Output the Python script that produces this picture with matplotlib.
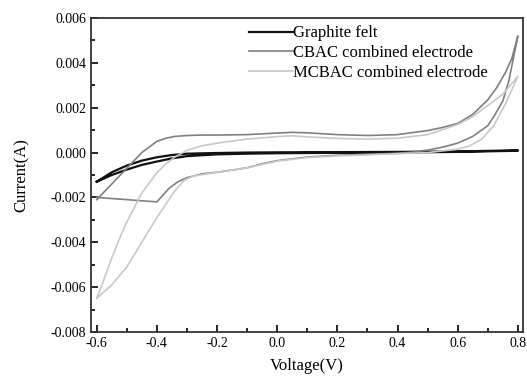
import matplotlib
matplotlib.use("Agg")
import matplotlib.pyplot as plt
from matplotlib.ticker import MultipleLocator

# Graphite felt (forward and return branches)
gf_v = [-0.6, -0.57, -0.55, -0.5, -0.45, -0.4, -0.35, -0.3, -0.2, -0.1, 0.0, 0.2, 0.4, 0.6, 0.8,
        0.8, 0.6, 0.4, 0.2, 0.0, -0.1, -0.2, -0.3, -0.35, -0.4, -0.45, -0.5, -0.55, -0.6]
gf_i = [-0.0013, -0.00105, -0.00088, -0.00058, -0.00036, -0.00021, -0.00011, -0.00005, -0.00002, 0.0, 0.00001, 0.00002, 0.00003, 0.00005, 0.0001,
        0.00008, 0.00003, 0.0, -0.00001, -0.00003, -0.00005, -0.00008, -0.00016, -0.00026, -0.0004, -0.00055, -0.00076, -0.001, -0.0013]

# CBAC combined electrode
cb_v = [-0.6, -0.55, -0.5, -0.45, -0.4, -0.37, -0.34, -0.3, -0.25, -0.2, -0.1, 0.0, 0.05, 0.1, 0.2, 0.3,
        0.4, 0.5, 0.55, 0.6, 0.65, 0.7, 0.73, 0.76, 0.78, 0.8,
        0.8, 0.77, 0.75, 0.72, 0.7, 0.65, 0.6, 0.55, 0.5, 0.45, 0.4, 0.3, 0.2, 0.1, 0.0, -0.05, -0.1,
        -0.2, -0.25, -0.3, -0.33, -0.36, -0.39, -0.4, -0.45, -0.5, -0.55, -0.6]
cb_i = [-0.0021, -0.0014, -0.0007, 0.0, 0.0005, 0.00064, 0.00072, 0.00076, 0.00078, 0.00078, 0.0008, 0.00087, 0.0009, 0.00088, 0.0008, 0.00076,
        0.0008, 0.00098, 0.00112, 0.0013, 0.0017, 0.00235, 0.0029, 0.0036, 0.0042, 0.0052,
        0.0052, 0.0032, 0.0023, 0.0016, 0.0012, 0.00072, 0.00042, 0.00024, 0.00011, 0.00002, -0.00003, -0.00008, -0.00012, -0.0002, -0.00036, -0.0005, -0.00068,
        -0.00088, -0.00095, -0.00112, -0.0013, -0.0016, -0.00205, -0.0022, -0.00215, -0.0021, -0.00205, -0.002]

# MCBAC combined electrode
mc_v = [-0.6, -0.58, -0.55, -0.52, -0.5, -0.45, -0.4, -0.37, -0.34, -0.3, -0.25, -0.2, -0.1, 0.0, 0.05, 0.1, 0.2, 0.3,
        0.4, 0.5, 0.6, 0.65, 0.7, 0.75, 0.8,
        0.8, 0.78, 0.76, 0.72, 0.68, 0.64, 0.6, 0.5, 0.4, 0.3, 0.2, 0.1, 0.0, -0.1, -0.2, -0.28, -0.31,
        -0.34, -0.37, -0.4, -0.45, -0.5, -0.55, -0.6]
mc_i = [-0.0065, -0.0058, -0.0047, -0.0037, -0.0031, -0.0018, -0.0009, -0.0005, -0.0002, 0.0001, 0.0003, 0.00042, 0.0006, 0.00071, 0.00075, 0.0007, 0.00063, 0.0006,
        0.00064, 0.0008, 0.00125, 0.0016, 0.0021, 0.0026, 0.0034,
        0.0034, 0.0028, 0.0022, 0.0012, 0.0006, 0.0003, 0.00015, 0.0, -0.00005, -0.0001, -0.00015, -0.00022, -0.00038, -0.00068, -0.00088, -0.00105, -0.00125,
        -0.0017, -0.0023, -0.0029, -0.004, -0.0051, -0.0059, -0.0065]

plt.rcParams["font.family"] = ["Liberation Serif", "DejaVu Serif"]
plt.rcParams["axes.unicode_minus"] = False

fig = plt.figure(figsize=(5.27, 3.77), dpi=100)
ax = fig.add_axes([0.1727, 0.1194, 0.8197, 0.8329])

ax.plot(gf_v, gf_i, color="#111111", lw=1.6, label="Graphite felt")
ax.plot(cb_v, cb_i, color="#808080", lw=1.2, label="CBAC combined electrode")
ax.plot(mc_v, mc_i, color="#c8c8c8", lw=1.2, label="MCBAC combined electrode")

ax.set_xlim(-0.619, 0.817)
ax.set_ylim(-0.008, 0.006)
ax.xaxis.set_major_locator(MultipleLocator(0.2))
ax.xaxis.set_minor_locator(MultipleLocator(0.1))
ax.yaxis.set_major_locator(MultipleLocator(0.002))
ax.yaxis.set_minor_locator(MultipleLocator(0.001))
ax.xaxis.set_major_formatter(plt.FuncFormatter(lambda v, p: "%.1f" % v))
ax.yaxis.set_major_formatter(plt.FuncFormatter(lambda v, p: "%.3f" % v))
ax.tick_params(which="both", direction="in", top=False, right=False, labelsize=10, width=1.2)
ax.tick_params(which="major", length=5)
ax.tick_params(which="minor", length=3)
for s in ax.spines.values():
    s.set_linewidth(1.3)
    s.set_color("#333333")

ax.set_xlabel("Voltage(V)", fontsize=12, labelpad=6)
ax.set_ylabel("Current(A)", fontsize=12, labelpad=15)

ax.legend(loc="upper right", bbox_to_anchor=(0.935, 1.0), frameon=False, fontsize=12,
          handlelength=2.6, handletextpad=0.0, labelspacing=0.22, borderaxespad=0.05)

fig.savefig("out.png", dpi=100)
